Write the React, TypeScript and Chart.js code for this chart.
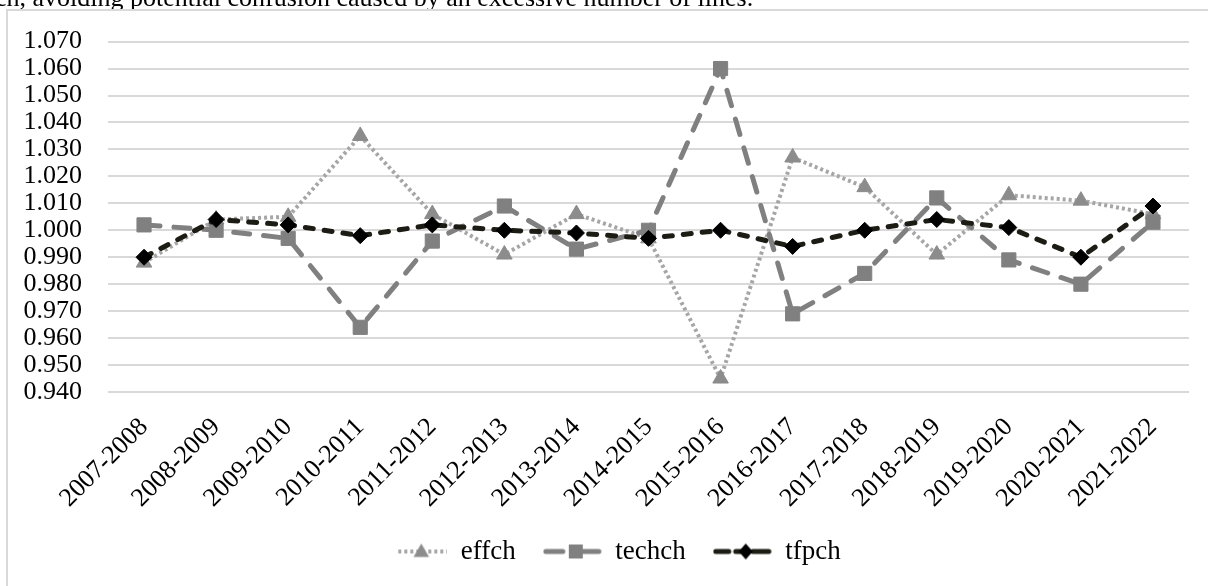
import React, { useEffect, useRef } from 'react';
import { Chart, registerables } from 'chart.js';

Chart.register(...registerables);

const categories = [
  '2007-2008', '2008-2009', '2009-2010', '2010-2011', '2011-2012',
  '2012-2013', '2013-2014', '2014-2015', '2015-2016', '2016-2017',
  '2017-2018', '2018-2019', '2019-2020', '2020-2021', '2021-2022',
];
const effch = [0.988, 1.004, 1.005, 1.035, 1.006, 0.991, 1.006, 0.997, 0.945, 1.027, 1.016, 0.991, 1.013, 1.011, 1.006];
const techch = [1.002, 1.000, 0.997, 0.964, 0.996, 1.009, 0.993, 1.000, 1.060, 0.969, 0.984, 1.012, 0.989, 0.980, 1.003];
const tfpch = [0.990, 1.004, 1.002, 0.998, 1.002, 1.000, 0.999, 0.997, 1.000, 0.994, 1.000, 1.004, 1.001, 0.990, 1.009];
const yMin = 0.94;
const yMax = 1.07;
const yStep = 0.01;

const FONT = '"Liberation Serif", "Times New Roman", serif';

function triangle(ctx: CanvasRenderingContext2D, x: number, y: number, r: number) {
  ctx.beginPath();
  for (let i = 0; i < 3; i++) {
    const a = (i * 2 * Math.PI) / 3;
    const px = x + Math.sin(a) * r;
    const py = y - Math.cos(a) * r;
    if (i === 0) ctx.moveTo(px, py); else ctx.lineTo(px, py);
  }
  ctx.closePath();
  ctx.fill();
}

function makeSymbol(kind: string): HTMLCanvasElement {
  const c = document.createElement('canvas');
  c.width = 59;
  c.height = 22;
  const ctx = c.getContext('2d')!;
  const cy = 11;
  const mx = 33;
  if (kind === 'effch') {
    ctx.strokeStyle = '#a6a6a6';
    ctx.lineWidth = 4;
    ctx.setLineDash([3, 3]);
    ctx.beginPath();
    ctx.moveTo(10, cy);
    ctx.lineTo(59, cy);
    ctx.stroke();
    ctx.fillStyle = '#8c8c8c';
    triangle(ctx, mx, cy + 1, 9);
  } else if (kind === 'techch') {
    ctx.strokeStyle = '#808080';
    ctx.lineWidth = 5;
    ctx.lineCap = 'round';
    ctx.beginPath();
    ctx.moveTo(3, cy);
    ctx.lineTo(20, cy);
    ctx.moveTo(40, cy);
    ctx.lineTo(56, cy);
    ctx.stroke();
    ctx.fillStyle = '#808080';
    ctx.fillRect(mx - 7, cy - 7, 14, 14);
  } else {
    ctx.strokeStyle = '#1c1c14';
    ctx.lineWidth = 5;
    ctx.lineCap = 'round';
    ctx.beginPath();
    ctx.moveTo(3, cy);
    ctx.lineTo(16, cy);
    ctx.moveTo(23, cy);
    ctx.lineTo(30, cy);
    ctx.moveTo(40, cy);
    ctx.lineTo(56, cy);
    ctx.stroke();
    ctx.fillStyle = '#000';
    ctx.beginPath();
    ctx.moveTo(mx, cy - 8);
    ctx.lineTo(mx + 7, cy);
    ctx.lineTo(mx, cy + 8);
    ctx.lineTo(mx - 7, cy);
    ctx.closePath();
    ctx.fill();
  }
  return c;
}

const legendShift = {
  id: 'legendShift',
  afterLayout(chart: any) {
    const lg = chart.legend;
    if (lg) {
      lg.left += 20;
      lg.right += 20;
    }
  },
};

export default function App() {
  const ref = useRef<HTMLCanvasElement>(null);

  useEffect(() => {
    const symbols: Record<string, HTMLCanvasElement> = {
      effch: makeSymbol('effch'),
      techch: makeSymbol('techch'),
      tfpch: makeSymbol('tfpch'),
    };
    const chart = new Chart(ref.current!, {
      type: 'line',
      data: {
        labels: categories,
        datasets: [
          {
            label: 'effch',
            data: effch,
            borderColor: '#a6a6a6',
            borderWidth: 4,
            borderDash: [3, 3],
            pointStyle: 'triangle',
            pointRadius: 9,
            pointBackgroundColor: '#8c8c8c',
            pointBorderColor: '#8c8c8c',
            pointBorderWidth: 1,
            tension: 0,
            order: 2,
          },
          {
            label: 'techch',
            data: techch,
            borderColor: '#808080',
            borderWidth: 5,
            borderDash: [16, 14],
            borderCapStyle: 'round',
            pointStyle: 'rect',
            pointRadius: 10,
            pointBackgroundColor: '#808080',
            pointBorderColor: '#808080',
            pointBorderWidth: 1,
            tension: 0,
            order: 1,
          },
          {
            label: 'tfpch',
            data: tfpch,
            borderColor: '#1c1c14',
            borderWidth: 5,
            borderDash: [8, 11],
            borderCapStyle: 'round',
            pointStyle: 'rectRot',
            pointRadius: 8,
            pointBackgroundColor: '#000000',
            pointBorderColor: '#000000',
            pointBorderWidth: 1,
            tension: 0,
            order: 0,
          },
        ],
      },
      options: {
        responsive: false,
        animation: false,
        devicePixelRatio: 1,
        layout: { padding: { left: 0, right: 19, top: 36, bottom: 11 } },
        plugins: {
          tooltip: { enabled: false },
          legend: {
            position: 'bottom',
            labels: {
              usePointStyle: true,
              pointStyleWidth: 59,
              padding: 27,
              color: '#000',
              font: { family: FONT, size: 27 },
              sort: (a: any, b: any) => a.datasetIndex - b.datasetIndex,
              generateLabels: (ch: any) => {
                const items = Chart.defaults.plugins.legend.labels.generateLabels(ch);
                return items.map((it: any) => ({ ...it, pointStyle: symbols[it.text] }));
              },
            },
          },
        },
        scales: {
          x: {
            offset: true,
            grid: { display: false, drawTicks: false, offset: true },
            border: { display: false },
            ticks: {
              autoSkip: false,
              maxRotation: 45,
              minRotation: 45,
              padding: 20,
              color: '#000',
              font: { family: FONT, size: 26 },
            },
            afterFit: (s: any) => { s.height = 119; },
          },
          y: {
            min: yMin,
            max: yMax,
            ticks: {
              stepSize: yStep,
              autoSkip: false,
              padding: 26,
              color: '#000',
              font: { family: FONT, size: 26 },
              callback: (v: any) => Number(v).toFixed(3),
            },
            grid: { color: '#d9d9d9', lineWidth: 2, drawTicks: false },
            border: { display: false },
            afterFit: (s: any) => { s.width = 108; },
          },
        },
      },
      plugins: [legendShift],
    } as any);
    return () => chart.destroy();
  }, []);

  return (
    <>
      <div style={{ position: 'fixed', left: 0, top: 0, width: 1208, height: 9, overflow: 'hidden' }}>
        <div
          style={{
            position: 'absolute',
            left: -5,
            top: -15.5,
            fontFamily: FONT,
            fontSize: 26,
            lineHeight: 1,
            whiteSpace: 'nowrap',
            color: '#000',
          }}
        >
          ch, avoiding potential confusion caused by an excessive number of lines.
        </div>
      </div>
      <div
        style={{
          position: 'fixed',
          left: 6,
          top: 9,
          width: 1300,
          height: 700,
          border: '2px solid #d9d9d9',
          boxSizing: 'border-box',
        }}
      />
      <div style={{ position: 'fixed', left: 0, top: 0, width: 1208, height: 586 }}>
        <canvas ref={ref} width={1208} height={586} style={{ width: 1208, height: 586, display: 'block' }} />
      </div>
    </>
  );
}
